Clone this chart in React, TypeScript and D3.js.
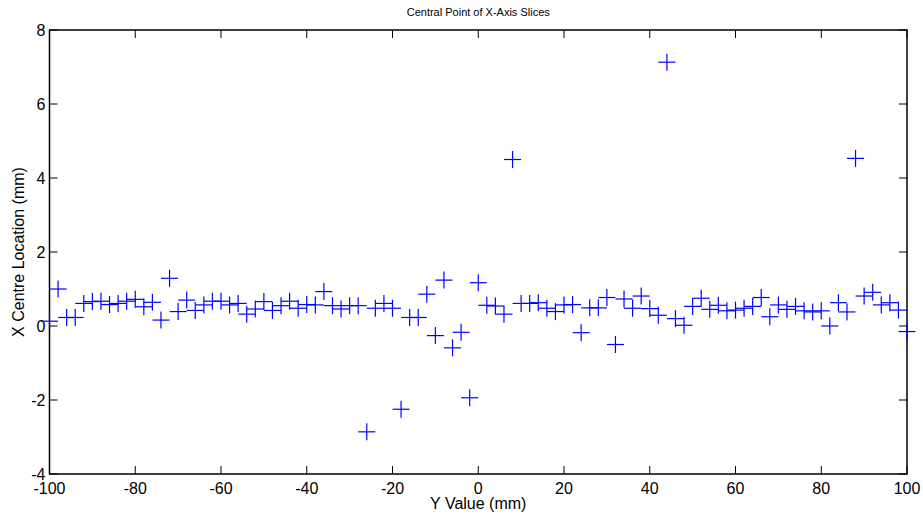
import React from "react";
import * as d3 from "d3";

const yPositions: number[] = d3.range(-100, 101, 2);
const xCentres: number[] = [
  0.13, 1.0, 0.23, 0.23, 0.61, 0.66, 0.67, 0.58, 0.61, 0.67,
  0.72, 0.52, 0.64, 0.16, 1.29, 0.39, 0.7, 0.42, 0.57, 0.67,
  0.67, 0.57, 0.61, 0.32, 0.46, 0.66, 0.42, 0.55, 0.67, 0.48,
  0.58, 0.57, 0.93, 0.55, 0.46, 0.55, 0.55, -2.86, 0.48, 0.61,
  0.48, -2.25, 0.23, 0.23, 0.86, -0.26, 1.24, -0.59, -0.17, -1.94,
  1.17, 0.56, 0.54, 0.32, 4.5, 0.61, 0.61, 0.63, 0.48, 0.39,
  0.57, 0.58, -0.18, 0.49, 0.49, 0.77, -0.5, 0.73, 0.48, 0.81,
  0.47, 0.29, 7.13, 0.2, 0.02, 0.53, 0.75, 0.45, 0.56, 0.41,
  0.43, 0.48, 0.53, 0.77, 0.25, 0.57, 0.45, 0.53, 0.41, 0.38,
  0.41, 0.0, 0.63, 0.38, 4.53, 0.81, 0.91, 0.57, 0.63, 0.43,
  -0.15,
];
const xTicks: number[] = d3.range(-100, 101, 20);
const yTicks: number[] = d3.range(-4, 9, 2);

const title = "Central Point of X-Axis Slices";
const xLabel = "Y Value (mm)";
const yLabel = "X Centre Location (mm)";

export default function App() {
  const W = 923, H = 516;
  const left = 49.5, right = 907, top = 30, bottom = 474;
  const x = d3.scaleLinear().domain([-100, 100]).range([left, right]);
  const y = d3.scaleLinear().domain([-4, 8]).range([bottom, top]);
  const font = "'Liberation Sans Narrow', 'Liberation Sans', Arial, sans-serif";
  const tick = 8;
  const fmt = (v: number) => (v < 0 ? "-" + Math.abs(v) : String(v));
  const ms = 8.5;
  return (
    <svg width={W} height={H} style={{ position: "absolute", left: 0, top: 0, background: "#fff" }}>
      <rect x={0} y={0} width={W} height={H} fill="#fff" />
      <text x={(left + right) / 2} y={16} textAnchor="middle" fontFamily={font} fontSize={11}>{title}</text>
      {xTicks.map((t) => (
        <g key={"xt" + t}>
          <line x1={x(t)} x2={x(t)} y1={bottom} y2={bottom - tick} stroke="#000" strokeWidth={1} />
          <line x1={x(t)} x2={x(t)} y1={top} y2={top + tick} stroke="#000" strokeWidth={1} />
          <text x={x(t)} y={bottom + 20} textAnchor="middle" fontFamily={font} fontSize={16}>{fmt(t)}</text>
        </g>
      ))}
      {yTicks.map((t) => (
        <g key={"yt" + t}>
          <line x1={left} x2={left + tick} y1={y(t)} y2={y(t)} stroke="#000" strokeWidth={1} />
          <line x1={right} x2={right - tick} y1={y(t)} y2={y(t)} stroke="#000" strokeWidth={1} />
          <text x={left - 4} y={y(t) + 6} textAnchor="end" fontFamily={font} fontSize={16}>{fmt(t)}</text>
        </g>
      ))}
      <rect x={left} y={top} width={right - left} height={bottom - top} fill="none" stroke="#000" strokeWidth={1.5} />
      {yPositions.map((p, i) => {
        const cx = x(p), cy = y(xCentres[i]);
        return (
          <g key={"m" + i} stroke="#0000ff" strokeWidth={1.2}>
            <line x1={cx - ms} x2={cx + ms} y1={cy} y2={cy} />
            <line x1={cx} x2={cx} y1={cy - ms} y2={cy + ms} />
          </g>
        );
      })}
      <text x={(left + right) / 2} y={509} textAnchor="middle" fontFamily={font} fontSize={16}>{xLabel}</text>
      <text transform={`translate(24, ${(top + bottom) / 2}) rotate(-90)`} textAnchor="middle" fontFamily={font} fontSize={16}>{yLabel}</text>
    </svg>
  );
}
